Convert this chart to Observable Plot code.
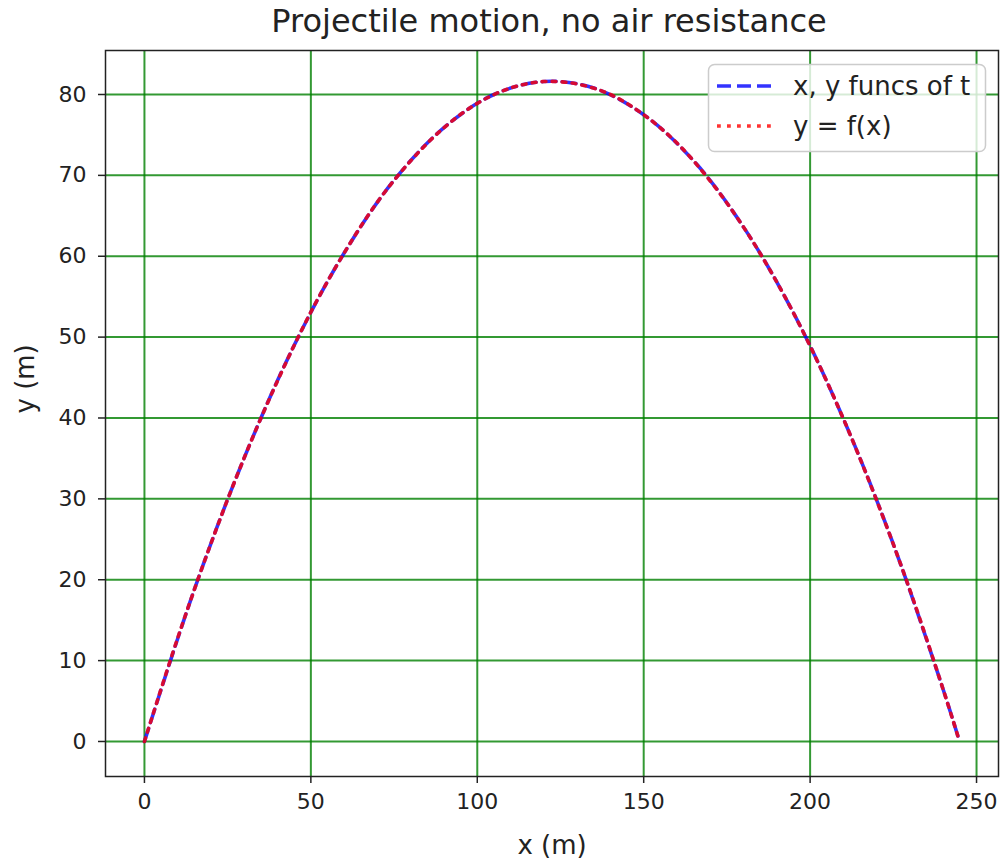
<!DOCTYPE html>
<html>
<head>
<meta charset="utf-8">
<script src="https://cdn.jsdelivr.net/npm/d3@7"></script>
<script src="https://cdn.jsdelivr.net/npm/@observablehq/plot@0.6"></script>
<style>
  body { margin: 0; background: #fff; font-family: "DejaVu Sans", sans-serif; }
  #wrap { position: relative; width: 1001px; height: 861px; background: #fff; }
  #title { position: absolute; left: 97px; top: 5px; width: 904px; text-align: center; white-space: nowrap;
           font-size: 32px; line-height: 32px; color: #222; }
  #chart { position: absolute; left: 0; top: 45px; }
  #legend { position: absolute; left: 0; top: 0; pointer-events: none; }
</style>
</head>
<body>
<div id="wrap">
  <div id="title">Projectile motion, no air resistance</div>
  <div id="chart"></div>
  <svg id="legend" width="1001" height="861"></svg>
</div>
<script>
// Series
// "x, y funcs of t" (sampled in time)
const tX = [0, 15, 30, 45, 60, 75, 90, 105, 120, 135, 150, 165, 180, 195, 210, 225, 240, 244.9];
const tY = [0, 18.8, 35.1, 49.0, 60.4, 69.4, 75.9, 80.0, 81.6, 80.8, 77.5, 71.8, 63.6, 53.0, 39.9, 24.4, 6.4, 0];
// "y = f(x)" (sampled in x)
const fX = [0, 10, 20, 30, 40, 50, 60, 70, 80, 90, 100, 110, 120, 130, 140, 150, 160, 170, 180, 190, 200, 210, 220, 230, 240, 244.9];
const fY = [0, 12.8, 24.5, 35.1, 44.6, 53.1, 60.4, 66.7, 71.8, 75.9, 78.9, 80.8, 81.6, 81.3, 80.0, 77.5, 74.0, 69.3, 63.6, 56.8, 48.9, 39.9, 29.8, 18.7, 6.4, 0];

const xTicks = [0, 50, 100, 150, 200, 250];
const yTicks = [0, 10, 20, 30, 40, 50, 60, 70, 80];
const seriesNames = ["x, y funcs of t", "y = f(x)"];
const axisLabels = { x: "x (m)", y: "y (m)" };

const tData = tX.map((x, i) => ({ x, y: tY[i] }));
const fData = fX.map((x, i) => ({ x, y: fY[i] }));

const gridStyle = { stroke: "#008000", strokeOpacity: 0.8, strokeWidth: 2 };

const chart = Plot.plot({
  width: 1001,
  height: 816,
  marginTop: 5,
  marginBottom: 85,
  marginLeft: 105,
  marginRight: 3,
  style: { fontFamily: "DejaVu Sans, sans-serif", fontSize: "22px", color: "#222", background: "white" },
  x: { domain: [-11.7, 256.6] },
  y: { domain: [-4.33, 85.44] },
  marks: [
    Plot.gridX(xTicks, gridStyle),
    Plot.gridY(yTicks, gridStyle),
    Plot.line(tData, { x: "x", y: "y", curve: "catmull-rom", stroke: "#0000ff", strokeOpacity: 0.8,
                       strokeWidth: 3.6, strokeDasharray: "14,6" }),
    Plot.line(fData, { x: "x", y: "y", curve: "catmull-rom", stroke: "#ff0000", strokeOpacity: 0.8,
                       strokeWidth: 3.6, strokeDasharray: "3.8,6.2" }),
    Plot.frame({ stroke: "#222", strokeWidth: 1.5 }),
    Plot.axisX(xTicks, { tickSize: 7, tickPadding: 10, fontSize: 22, label: null, stroke: "#222", strokeWidth: 1.5 }),
    Plot.axisY(yTicks, { tickSize: 7, tickPadding: 12, fontSize: 22, label: null, stroke: "#222", strokeWidth: 1.5 }),
    Plot.text([axisLabels.x], { frameAnchor: "bottom", dy: 69, lineAnchor: "middle", fontSize: 26, fill: "#222" }),
    Plot.text([axisLabels.y], { frameAnchor: "left", dx: -80, rotate: -90, lineAnchor: "middle", fontSize: 26, fill: "#222" })
  ]
});
document.getElementById("chart").appendChild(chart);

// Legend
const lg = d3.select("#legend");
lg.append("rect").attr("x", 708.5).attr("y", 64.5).attr("width", 277).attr("height", 87)
  .attr("rx", 6).attr("fill", "white").attr("fill-opacity", 0.8).attr("stroke", "#cccccc").attr("stroke-width", 1.5);
const rows = [
  { name: seriesNames[0], color: "#0000ff", dash: "14,6", y: 86 },
  { name: seriesNames[1], color: "#ff0000", dash: "3.8,6.2", y: 126 }
];
rows.forEach(r => {
  lg.append("line").attr("x1", 717).attr("x2", 771).attr("y1", r.y).attr("y2", r.y)
    .attr("stroke", r.color).attr("stroke-opacity", 0.8).attr("stroke-width", 3.6).attr("stroke-dasharray", r.dash);
  lg.append("text").attr("x", 793).attr("y", r.y).attr("dy", "0.35em")
    .attr("font-family", "DejaVu Sans, sans-serif").attr("font-size", 26).attr("fill", "#222").text(r.name);
});
</script>
</body>
</html>
